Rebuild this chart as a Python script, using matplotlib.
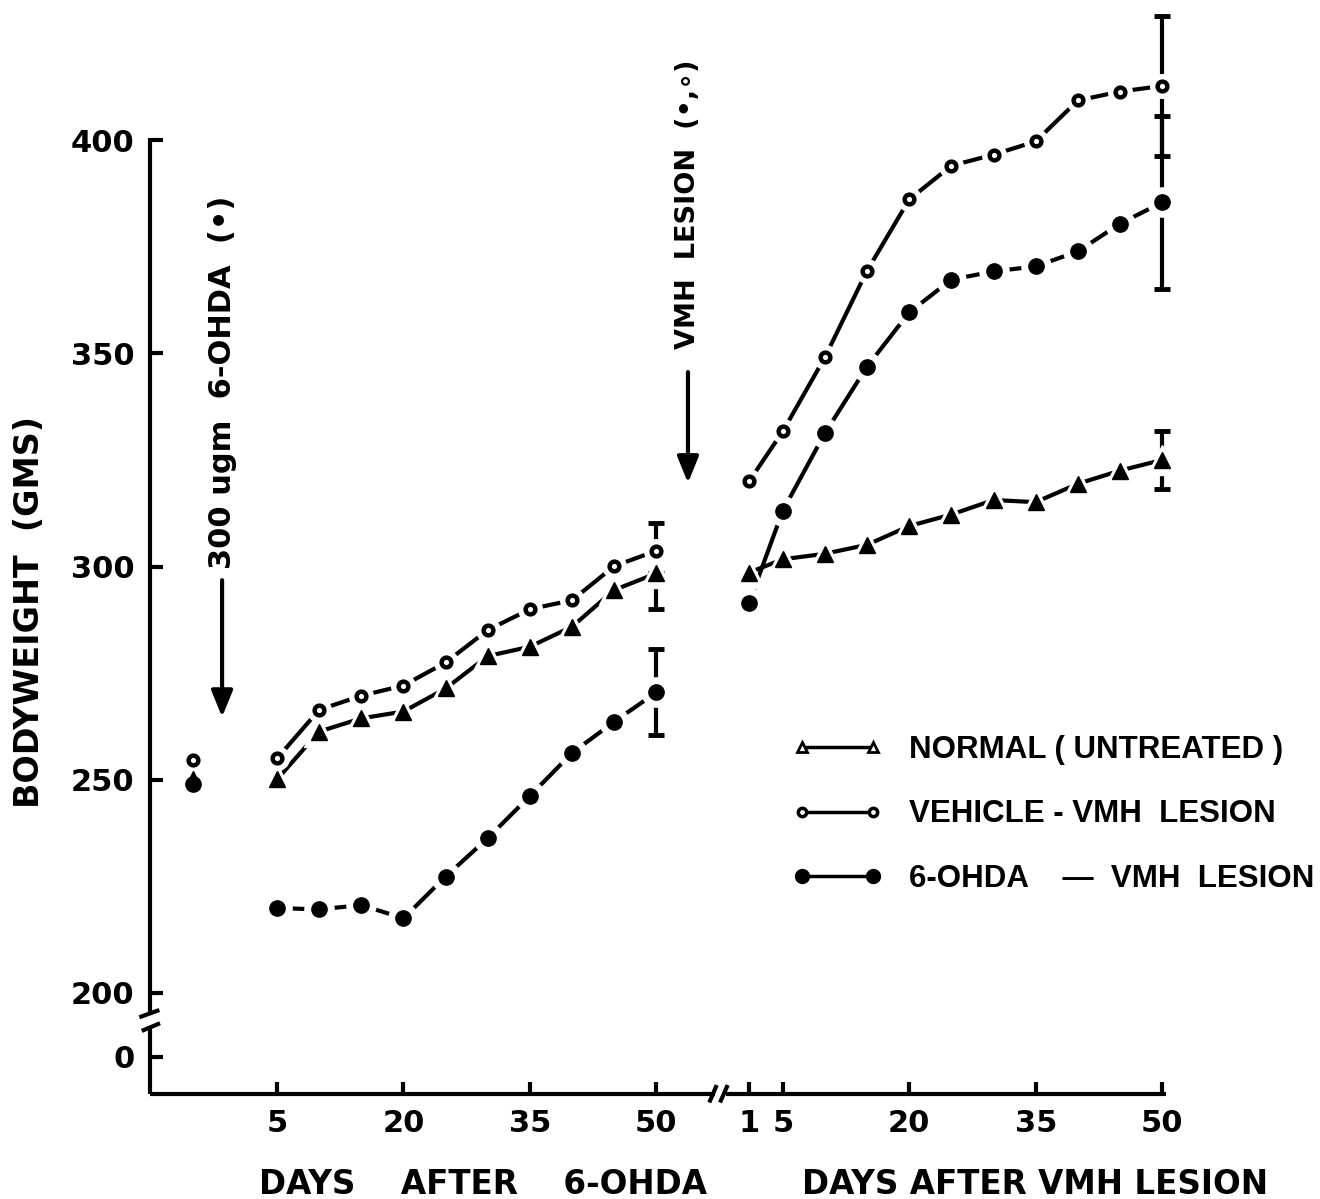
import matplotlib.pyplot as plt
from matplotlib.lines import Line2D
from matplotlib.legend_handler import HandlerLine2D

plt.rcParams['font.family'] = ['DejaVu Sans']
plt.rcParams['font.weight'] = 'bold'

# days after 6-OHDA (left part) and days after VMH lesion (right part)
pre_days = [5, 10, 15, 20, 25, 30, 35, 40, 45, 50]
post_days = [1, 5, 10, 15, 20, 25, 30, 35, 40, 45, 50]
base_day = -5          # pre-treatment weighing
post_shift = 60        # where the second time axis starts on the shared x axis

pre_ticks = [5, 20, 35, 50]
post_ticks = [1, 5, 20, 35, 50]

# bodyweight (gms)
normal_pre = [250.1, 261.3, 264.4, 266.0, 271.4, 279.0, 281.2, 285.9, 294.5, 298.4]
vehicle_pre = [255.0, 266.4, 269.7, 272.1, 277.5, 285.1, 290.0, 292.1, 300.1, 303.7]
ohda_pre = [219.9, 219.6, 220.6, 217.5, 227.3, 236.3, 246.2, 256.3, 263.6, 270.5]

normal_post = [298.6, 301.7, 303.0, 305.1, 309.5, 312.2, 315.6, 315.1, 319.4, 322.5, 325.0]
vehicle_post = [320.0, 331.7, 349.1, 369.4, 386.1, 394.0, 396.6, 399.7, 409.3, 411.4, 412.7]
ohda_post = [291.5, 313.1, 331.3, 346.9, 359.6, 367.3, 369.2, 370.4, 373.9, 380.4, 385.4]

normal_base = 250.3
vehicle_base = 254.6
ohda_base = 249.0

# error bars on the last day of each period: (below, above)
normal_err = [(8.4, 0.0), (6.7, 6.7)]
vehicle_err = [(0.0, 6.5), (16.4, 16.4)]
ohda_err = [(10.1, 10.1), (20.2, 20.2)]

y_ticks = [200, 250, 300, 350, 400]
y_zero_pos = 185.0     # the "0" below the axis break

fig = plt.figure(figsize=(13.2, 11.99), dpi=100)
ax = fig.add_axes([0.11364, 0.08757, 0.76970, 0.79733])
ax.set_xlim(-10.07, 110.46)
ax.set_ylim(176.3, 400.5)
for s in ax.spines.values():
    s.set_visible(False)

styles = {
    'normal': dict(marker='^', ms=11.5, mfc='black', mew=1),
    'vehicle': dict(marker='o', ms=7.0, mfc='white', mew=3.2),
    'ohda': dict(marker='o', ms=11.0, mfc='black', mew=1),
}


def series(x, y, st):
    ax.plot(x, y, color='black', lw=3, zorder=2, clip_on=False)
    ax.plot(x, y, ls='none', marker=st['marker'], ms=st['ms'] + 10,
            mfc='white', mec='white', zorder=3, clip_on=False)
    ax.plot(x, y, ls='none', marker=st['marker'], ms=st['ms'], mfc=st['mfc'],
            mec='black', mew=st['mew'], zorder=4, clip_on=False)


def errbar(x, y, err):
    c = ax.errorbar([x], [y], yerr=[[err[0]], [err[1]]], fmt='none', ecolor='black',
                    elinewidth=3, capsize=6, capthick=3.5, zorder=1)
    for art in c.get_children():
        art.set_clip_on(False)


post_x = [d + post_shift for d in post_days]
groups = [
    ('normal', normal_pre, normal_post, normal_base, normal_err),
    ('vehicle', vehicle_pre, vehicle_post, vehicle_base, vehicle_err),
    ('ohda', ohda_pre, ohda_post, ohda_base, ohda_err),
]
for key, pre, post, base, err in groups:
    st = styles[key]
    series(pre_days, pre, st)
    series(post_x, post, st)
    errbar(pre_days[-1], pre[-1], err[0])
    errbar(post_x[-1], post[-1], err[1])

# pre-treatment points (no connecting line)
ax.plot([base_day], [ohda_base], ls='none', marker='o', ms=11, color='black', zorder=4)
ax.plot([base_day], [normal_base], ls='none', marker='^', ms=10, color='black', zorder=5)
ax.plot([base_day], [vehicle_base], ls='none', marker='o', ms=7, mfc='white',
        mec='black', mew=3.2, zorder=5)

# axis lines with breaks
x0, x1 = ax.get_xlim()
y0, y1 = ax.get_ylim()
axkw = dict(color='black', lw=3, clip_on=False, solid_capstyle='butt', zorder=6)
ax.plot([x0, x0], [y1, 195.6], **axkw)
ax.plot([x0, x0], [191.8, y0], **axkw)
ax.plot([-11.33, -8.96], [194.3, 196.0], **axkw)
ax.plot([-11.05, -8.88], [191.1, 192.9], **axkw)
ax.plot([x0, 56.9], [y0, y0], **axkw)
ax.plot([58.3, x1], [y0, y0], **axkw)
ax.plot([56.28, 57.16], [174.3, 178.4], **axkw)
ax.plot([57.55, 58.46], [174.3, 178.4], **axkw)

ax.set_xticks(pre_ticks + [d + post_shift for d in post_ticks],
              [str(d) for d in pre_ticks + post_ticks])
ax.set_yticks([y_zero_pos] + y_ticks, ['0'] + [str(v) for v in y_ticks])
ax.tick_params(direction='in', length=9, width=3, labelsize=22, pad=11)

# treatment arrows
arrow = dict(arrowstyle='-|>,head_width=0.65,head_length=1.6', lw=3, color='black',
             shrinkA=0, shrinkB=0, mutation_scale=10)
ax.annotate('', xy=(-1.52, 264.7), xytext=(-1.52, 296.8), arrowprops=arrow)
ax.text(-1.52, 343.3, '300 ugm  6-OHDA  (\u2022)', rotation=90, ha='center',
        va='center', fontsize=22)
ax.annotate('', xy=(53.75, 319.6), xytext=(53.75, 345.6), arrowprops=arrow,
            annotation_clip=False)
ax.text(53.75, 385.0, 'VMH  LESION  (\u2022,\u2218)', rotation=90, ha='center',
        va='center', fontsize=19.5, clip_on=False)

# axis titles
fig.text(30 / 1320, 1 - 612 / 1199, 'BODYWEIGHT  (GMS)', rotation=90,
         ha='center', va='center', fontsize=24)
fig.text(483 / 1320, 1 - 1184 / 1199, 'DAYS    AFTER    6-OHDA',
         ha='center', va='center', fontsize=23.5)
fig.text(1035 / 1320, 1 - 1184 / 1199, 'DAYS AFTER VMH LESION',
         ha='center', va='center', fontsize=23.5)

# legend
handles = [
    Line2D([], [], color='black', lw=2.5, marker='^', ms=7, mfc='white', mec='black', mew=2),
    Line2D([], [], color='black', lw=2.5, marker='o', ms=6, mfc='white', mec='black', mew=2.5),
    Line2D([], [], color='black', lw=2.5, marker='o', ms=10, mfc='black', mec='black'),
]
labels = ['NORMAL ( UNTREATED )', 'VEHICLE - VMH  LESION', '6-OHDA    \u2014  VMH  LESION']
leg = fig.legend(handles, labels, loc='center left',
                 bbox_to_anchor=(802 / 1320, 1 - 814.5 / 1199),
                 frameon=False, borderpad=0, borderaxespad=0, numpoints=2,
                 handlelength=2.27, handletextpad=1.15, labelspacing=1.11,
                 handler_map={Line2D: HandlerLine2D(marker_pad=0, numpoints=2)},
                 prop=dict(family=['Liberation Sans', 'DejaVu Sans'],
                           weight='bold', size=22.5))

fig.savefig('out.png', dpi=100)
